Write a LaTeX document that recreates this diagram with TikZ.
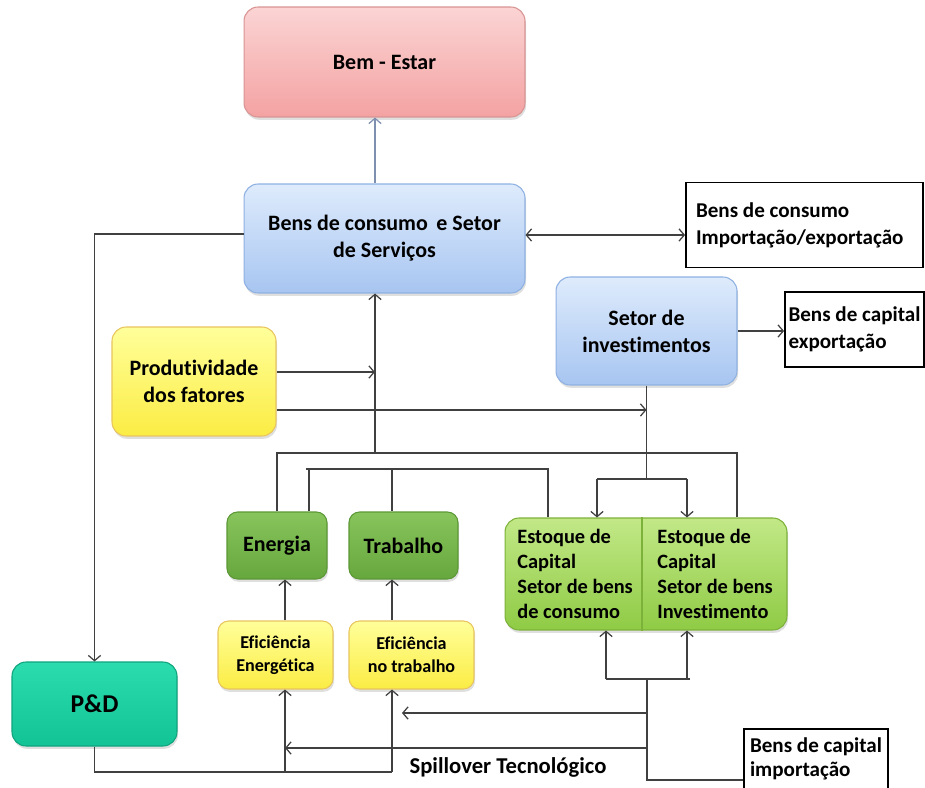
\documentclass[tikz,border=0pt]{standalone}
\usepackage{fontspec}
\setmainfont{Carlito}[Ligatures=NoCommon]
\usetikzlibrary{arrows.meta,shadows}

\definecolor{linha}{HTML}{404040}
\definecolor{linhaAzul}{HTML}{7F8FAF}
\definecolor{rosaTopo}{HTML}{FBD4D4}
\definecolor{rosaBase}{HTML}{F4A2A2}
\definecolor{rosaBorda}{HTML}{D99494}
\definecolor{azulTopo}{HTML}{DEEBFC}
\definecolor{azulBase}{HTML}{A7C5F1}
\definecolor{azulBorda}{HTML}{8FB1E2}
\definecolor{amareloTopo}{HTML}{FFFF9A}
\definecolor{amareloBase}{HTML}{FBEC44}
\definecolor{amareloBorda}{HTML}{E8C55E}
\definecolor{verdeClaroTopo}{HTML}{C2E887}
\definecolor{verdeClaroBase}{HTML}{8FCB45}
\definecolor{verdeClaroBorda}{HTML}{7DB23A}
\definecolor{verdeTopo}{HTML}{88C55C}
\definecolor{verdeBase}{HTML}{66A73D}
\definecolor{verdeBorda}{HTML}{5C9836}
\definecolor{pdTopo}{HTML}{2BDCAF}
\definecolor{pdBase}{HTML}{12C396}
\definecolor{pdBorda}{HTML}{0FA47E}

\tikzset{
  caixa/.style={rounded corners=8pt, line width=0.6pt, align=center,
    font=\bfseries\fontsize{12.5}{15.3}\selectfont,
    drop shadow={opacity=0.25, shadow xshift=0.6pt, shadow yshift=-1.6pt}},
  rosa/.style={caixa, top color=rosaTopo, bottom color=rosaBase, draw=rosaBorda},
  azul/.style={caixa, top color=azulTopo, bottom color=azulBase, draw=azulBorda},
  amarelo/.style={caixa, top color=amareloTopo, bottom color=amareloBase, draw=amareloBorda},
  verde/.style={caixa, rounded corners=6pt, top color=verdeTopo, bottom color=verdeBase, draw=verdeBorda},
  verdeclaro/.style={caixa, top color=verdeClaroTopo, bottom color=verdeClaroBase, draw=verdeClaroBorda},
  pdcaixa/.style={caixa, top color=pdTopo, bottom color=pdBase, draw=pdBorda,
    font=\bfseries\fontsize{14.6}{16}\selectfont},
  eficiencia/.style={amarelo, rounded corners=6pt, font=\bfseries\fontsize{10.3}{13}\selectfont},
  externa/.style={draw=black, line width=1.1pt, fill=white, align=flush left,
    font=\bfseries\fontsize{12}{15.3}\selectfont},
  textoestoque/.style={anchor=west, inner sep=0pt, align=flush left,
    font=\bfseries\fontsize{11.6}{14.2}\selectfont},
  ligacao/.style={draw=linha, line width=0.7pt},
  seta/.style={ligacao, -{Straight Barb[length=3pt,width=7pt]}},
  setadupla/.style={ligacao, {Straight Barb[length=3pt,width=7pt]}-{Straight Barb[length=3pt,width=7pt]}}
}

\begin{document}
\begin{tikzpicture}[x=0.02cm, y=-0.02cm]
\clip (0,0) rectangle (925,787);
\fill[white] (0,0) rectangle (925,787);

% Caixas principais
\node[rosa, minimum width=5.62cm, minimum height=2.2cm] (bemestar) at (384.5,62) {Bem - Estar};
\node[azul, minimum width=5.62cm, minimum height=2.18cm] (consumo) at (384.5,238.5) {Bens de consumo\, e Setor\\de Serviços};
\node[azul, minimum width=3.62cm, minimum height=2.16cm] (investimentos) at (646.5,331) {Setor de\\investimentos};
\node[amarelo, minimum width=3.28cm, minimum height=2.18cm] (produtividade) at (194,381.5) {Produtividade\\dos fatores};

% Comercio exterior
\node[externa, text width=4.34cm, inner xsep=0.2cm, minimum height=1.7cm] (impexp) at (804.5,225) {Bens de consumo\\Importação/exportação};
\node[externa, inner xsep=0.04cm, minimum width=2.78cm, minimum height=1.5cm] (capexp) at (854.5,329.5) {Bens de capital\\exportação};
\node[externa, inner xsep=0.12cm, minimum width=2.88cm, minimum height=1.2cm, font=\bfseries\fontsize{12}{14}\selectfont] (capimp) at (816,759) {Bens de capital\\importação};

% Fatores
\node[verde, minimum width=2cm, minimum height=1.34cm] (energia) at (277,545.5) {Energia};
\node[verde, minimum width=2.18cm, minimum height=1.34cm] (trabalho) at (403.5,545.5) {Trabalho};
\node[eficiencia, minimum width=2.3cm, minimum height=1.36cm] (efenerg) at (275.5,655) {Eficiência\\Energética};
\node[eficiencia, minimum width=2.5cm, minimum height=1.36cm] (eftrab) at (411.5,655) {Eficiência\\no trabalho};
\node[pdcaixa, minimum width=3.3cm, minimum height=1.68cm] (pd) at (94.5,704) {P\&D};

% Estoque de capital
\node[verdeclaro, minimum width=5.64cm, minimum height=2.24cm] (estoque) at (646,574) {};
\coordinate (divisor) at (642,574);
\draw[verdeClaroBorda, line width=1pt] (divisor |- estoque.north) -- (divisor |- estoque.south);
\node[textoestoque] (estcons) at (517,574) {Estoque de\\Capital\\Setor de bens\\de consumo};
\node[textoestoque] (estinv) at (657,574) {Estoque de\\Capital\\Setor de bens\\Investimento};

\node[font=\bfseries\fontsize{12.9}{14}\selectfont] (spill) at (508,767) {Spillover Tecnológico};

% Pontos de ligacao
\coordinate (tronco) at (375,453);
\coordinate (barra1) at (737,453);
\coordinate (barra2) at (306,469);
\coordinate (barra2e) at (548,469);
\coordinate (colE) at (309,469);
\coordinate (colT) at (392,469);
\coordinate (dist) at (646.5,479);
\coordinate (distE) at (597,479);
\coordinate (distD) at (687,479);
\coordinate (retorno) at (647,679);
\coordinate (retE) at (606,679);
\coordinate (retD) at (690,679);
\coordinate (spillT) at (647,713);
\coordinate (fimT) at (402,713);
\coordinate (spillE) at (647,748);
\coordinate (baseE) at (285,772);
\coordinate (baseT) at (392,772);
\coordinate (p1) at ([yshift=5.4pt]produtividade.east);
\coordinate (p2) at ([yshift=-16.2pt]produtividade.east);

% Ligacoes de cima
\draw[seta, draw=linhaAzul] (tronco |- consumo.north) -- (tronco |- bemestar.south);
\draw[setadupla] ([yshift=2pt]consumo.east) -- ([yshift=2pt]consumo.east -| impexp.west);
\draw[seta] (investimentos.east) -- (investimentos.east -| capexp.west);
\draw[seta] ([yshift=2.5pt]consumo.west) -| (pd.north);
\draw[seta] (p1) -- (tronco |- p1);
\draw[seta] (p2) -- (investimentos.south |- p2);
\draw[seta] (tronco) -- (tronco |- consumo.south);

% Barras dos fatores
\draw[ligacao] (energia.north) |- (barra1) -- (barra1 |- estoque.north);
\draw[ligacao] (barra2) -- (barra2e) -- (barra2e |- estoque.north);
\draw[ligacao] (colE) -- (colE |- energia.north);
\draw[ligacao] (colT) -- (colT |- trabalho.north);

% Investimento para o estoque
\draw[ligacao] (investimentos.south) -- (dist);
\draw[ligacao] (distE) -- (distD);
\draw[seta] (distE) -- (distE |- estoque.north);
\draw[seta] (distD) -- (distD |- estoque.north);

% Retorno e spillover
\draw[ligacao] (retE) -- (retD);
\draw[seta] (retE) -- (retE |- estoque.south);
\draw[seta] ([xshift=-1.7pt]retD) -- ([xshift=-1.7pt]retD |- estoque.south);
\draw[ligacao] (retorno) |- ([yshift=-11.9pt]capimp.west);
\draw[seta] (spillT) -- (fimT);
\draw[seta] (spillE) -- (spillE -| baseE);

% Eficiencia
\draw[ligacao] (pd.south) |- (baseT);
\draw[seta] (baseE) -- (baseE |- efenerg.south);
\draw[seta] (baseT) -- (baseT |- eftrab.south);
\draw[seta] (baseE |- efenerg.north) -- (baseE |- energia.south);
\draw[seta] (baseT |- eftrab.north) -- (baseT |- trabalho.south);
\end{tikzpicture}
\end{document}
